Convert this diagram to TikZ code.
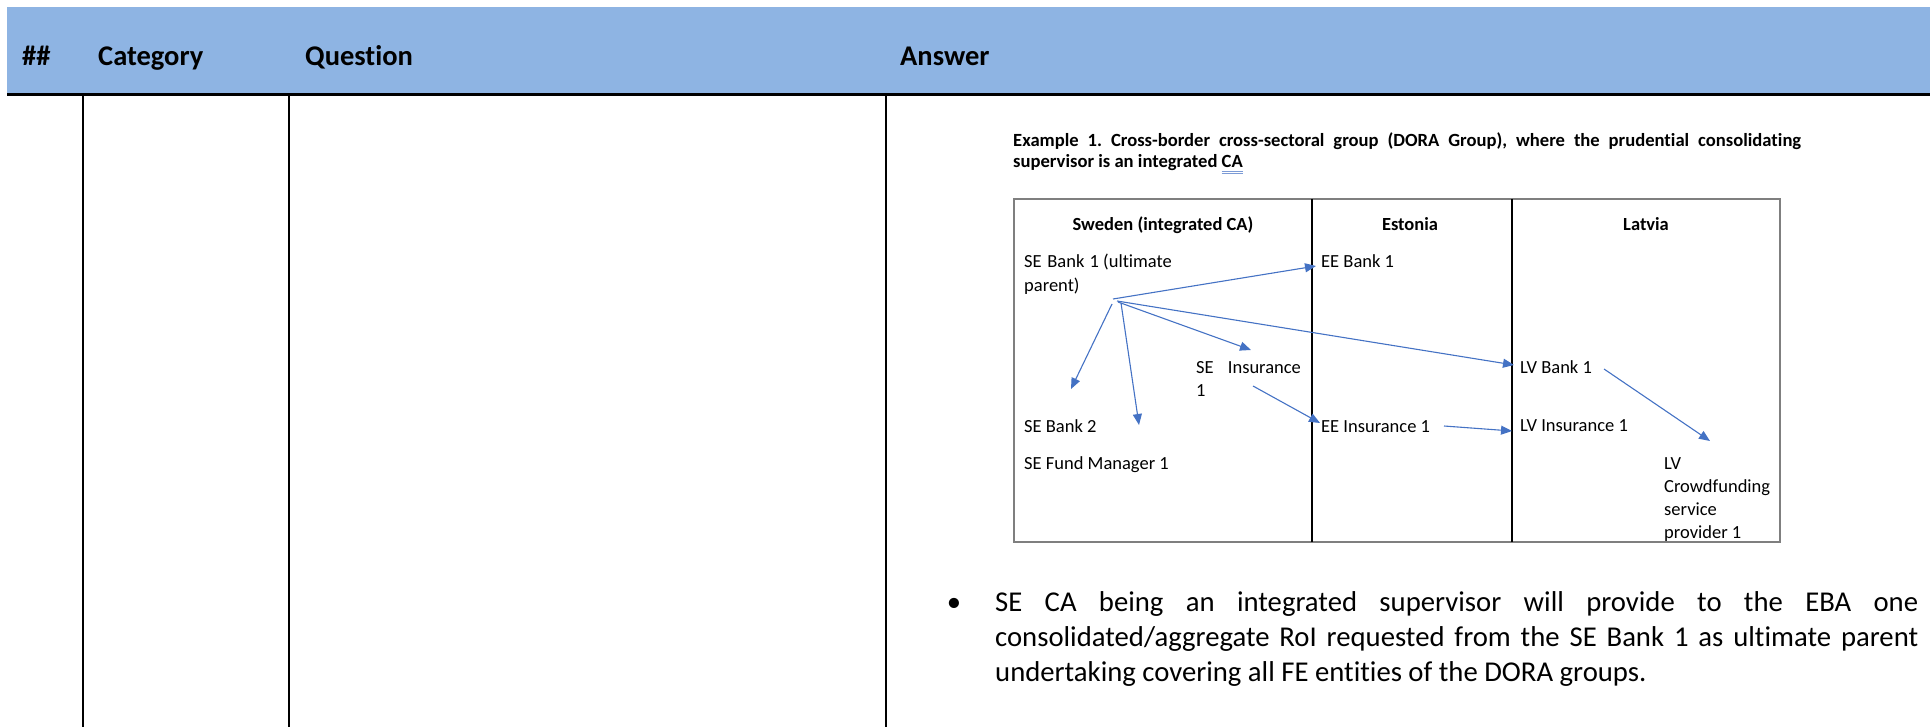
\documentclass[tikz,border=0pt]{standalone}
\usepackage{fontspec}
\setmainfont{Carlito}[Ligatures=NoCommon]
\usetikzlibrary{arrows.meta}
\definecolor{hdrblue}{HTML}{8EB4E3}
\definecolor{arrblue}{HTML}{4472C4}
\definecolor{boxgray}{HTML}{7F7F7F}
\definecolor{spellc}{HTML}{7C9BD6}
\newlength\spellwd
\newcommand\spellmark[1]{\settowidth\spellwd{#1}\rlap{\textcolor{spellc}{\rule[-3.4pt]{\spellwd}{0.8pt}}}\rlap{\textcolor{spellc}{\rule[-5.4pt]{\spellwd}{0.8pt}}}#1}
\frenchspacing
\begin{document}
\begin{tikzpicture}[x=1pt,y=-1pt,
  hdr/.style={anchor=base west, inner sep=0pt, font=\fontsize{28.5}{34}\selectfont\bfseries},
  lbl/.style={anchor=base west, inner sep=0pt, font=\fontsize{18.5}{23}\selectfont},
  colhead/.style={anchor=base, inner sep=0pt, font=\fontsize{18.5}{23}\selectfont\bfseries},
  ttl/.style={anchor=base west, inner sep=0pt, font=\fontsize{18.6}{21}\selectfont\bfseries},
  body/.style={anchor=base west, inner sep=0pt, font=\fontsize{28.7}{35}\selectfont},
  tabline/.style={line width=1.8pt, black},
  arr/.style={draw=arrblue, line width=1.1pt, -{Triangle[length=11pt,width=9pt]}}
]
\useasboundingbox (0,0) rectangle (1930,727);
% table header
\fill[hdrblue] (7,7) rectangle (1930,95);
\draw[line width=3pt] (7,95) -- (1930,95);
\draw[tabline] (83,95) -- (83,727);
\draw[tabline] (289,95) -- (289,727);
\draw[tabline] (886,95) -- (886,727);
\node[hdr] (h1) at (22,66) {\#\#};
\node[hdr] (h2) at (98,66) {Category};
\node[hdr] (h3) at (305,66) {Question};
\node[hdr] (h4) at (900,66) {Answer};
% title
\node[ttl] (t1) at (1013,147) {\makebox[788pt][s]{Example 1. Cross-border cross-sectoral group (DORA Group), where the prudential consolidating}};
\node[ttl] (t2) at (1013,168) {supervisor is an integrated \spellmark{CA}};
% diagram box
\draw[boxgray, line width=1.3pt] (1014,199) rectangle (1780,542);
\draw[black, line width=1.1pt] (1312,199) -- (1312,542);
\draw[black, line width=1.1pt] (1512,199) -- (1512,542);
\node[colhead] (cse) at (1163,231) {Sweden (integrated CA)};
\node[colhead] (cee) at (1410,231) {Estonia};
\node[colhead] (clv) at (1646,231) {Latvia};
\node[lbl] (seb1) at (1024,268) {SE\hspace{1.5pt} Bank\hspace{1pt} 1 (ultimate};
\node[lbl] (seb1b) at (1024,291) {parent)};
\node[lbl] (eeb1) at (1321,268) {EE Bank 1};
\node[lbl] (seins) at (1196,373) {SE\hspace{10pt} Insurance};
\node[lbl] (seinsb) at (1196,396) {1};
\node[lbl] (seb2) at (1024,432) {SE Bank 2};
\node[lbl] (sefm) at (1024,469) {SE Fund Manager 1};
\node[lbl] (eeins) at (1321,432) {EE Insurance 1};
\node[lbl] (lvb1) at (1520,373) {LV Bank 1};
\node[lbl] (lvins) at (1520,431) {LV Insurance 1};
\node[lbl, align=left, font=\fontsize{18.5}{23}\selectfont, anchor=north west] (lvcf) at (1664,457) {LV\\Crowdfunding\\service\\provider 1};
% connector end points
\coordinate (o1) at (1113,299);
\coordinate (o2) at (1117,301);
\coordinate (o3) at (1118,302);
\coordinate (o4) at (1112,304);
\coordinate (o5) at (1121,303);
\coordinate (p1) at (1316,266);
\coordinate (p2) at (1514,365);
\coordinate (p3) at (1251,350);
\coordinate (p4) at (1071,389);
\coordinate (p5) at (1139,425);
\coordinate (q6) at (1253,386);
\coordinate (p6) at (1320,423);
\coordinate (q7) at (1444,426);
\coordinate (p7) at (1512,431);
\coordinate (q8) at (1604,369);
\coordinate (p8) at (1710,441);
\draw[arr] (o1) -- (p1);
\draw[arr] (o2) -- (p2);
\draw[arr] (o3) -- (p3);
\draw[arr] (o4) -- (p4);
\draw[arr] (o5) -- (p5);
\draw[arr] (q6) -- (p6);
\draw[arr] (q7) -- (p7);
\draw[arr] (q8) -- (p8);
% bullet paragraph
\node[body, anchor=base] (bul) at (954,611) {\textbullet};
\node[body] (b1) at (995,611) {\makebox[923pt][s]{SE CA being an integrated supervisor will provide to the EBA one}};
\node[body] (b2) at (995,646) {\makebox[923pt][s]{consolidated/aggregate RoI requested from the SE Bank 1 as ultimate parent}};
\node[body] (b3) at (995,681) {undertaking covering all FE entities of the DORA groups.};
\end{tikzpicture}
\end{document}
